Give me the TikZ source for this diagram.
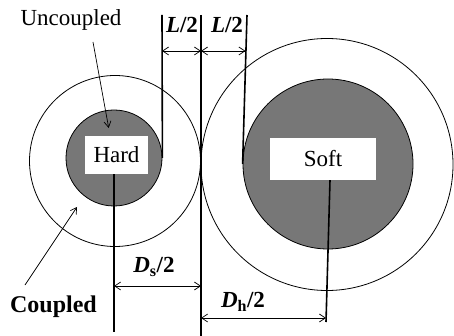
\documentclass[tikz,border=0pt]{standalone}
\usepackage{fontspec}
\setmainfont{Liberation Serif}
\usetikzlibrary{arrows.meta}
\definecolor{coregray}{RGB}{119,119,119}

\begin{document}
\begin{tikzpicture}[x=1pt, y=-1pt,
        ring/.style={draw, circle, line width=0.8pt, inner sep=0pt},
        core/.style={ring, fill=coregray},
        tag/.style={fill=white, inner sep=0pt, font=\fontsize{23}{25}\selectfont},
        lbl/.style={inner sep=0pt, font=\fontsize{23}{25}\selectfont\bfseries},
        guide/.style={line width=1.6pt},
        dim/.style={{Straight Barb[length=6pt,width=8pt]}-{Straight Barb[length=6pt,width=8pt]}, line width=0.7pt},
        pointer/.style={-{Straight Barb[length=6pt,width=7pt]}, line width=0.7pt}]

        \useasboundingbox (0,0) rectangle (454,336);

        % rings and cores
        \node[ring, minimum size=171] (hardring) at (115,161) {};
        \node[core, minimum size=96]  (hardcore) at (114,158) {};
        \node[ring, minimum size=252] (softring) at (327,164.5) {};
        \node[core, minimum size=170] (softcore) at (328,164) {};

        % tops and feet of the guide lines
        \coordinate (lt) at (162,15);
        \coordinate (mt) at (201,15);
        \coordinate (mb) at (201,336);
        \coordinate (rt) at (247,15);
        \coordinate (hb) at (114,332);
        \coordinate (sb) at (326,322);

        \draw[guide]  (lt) -- (hardcore.east);
        \draw[guide]  (mt) -- (mb);
        \draw[guide]  (rt) -- (softcore.west);

        % boxes
        \node[tag, minimum width=63, minimum height=38] (hard) at (116.5,155) {Hard};
        \node[tag, minimum width=106, minimum height=42] (soft) at (323,159) {Soft};

        \draw[guide]  (hardcore.center |- hard.south) -- (hb);
        \draw[guide]  ([xshift=7pt]soft.south) -- (sb);

        % dimensions
        \draw[dim]  ([yshift=-36pt]lt) -- ([yshift=-36pt]mt);
        \draw[dim]  ([yshift=-36pt]mt) -- ([yshift=-36pt,xshift=-1.5pt]rt);
        \draw[dim]  (hb |- 0,286) -- (mt |- 0,286);
        \draw[dim]  (mt |- 0,318) -- (sb |- 0,318);

        \node[lbl] (l1) at (182,25) {\textit{L}/2};
        \node[lbl] (l2) at (227,25) {\textit{L}/2};
        \node[lbl] (ds) at (154,267) {\textit{D}\textsubscript{s}/2};
        \node[lbl] (dh) at (243,302) {\textit{D}\textsubscript{h}/2};

        % ring labels
        \node[inner sep=0pt, font=\fontsize{23}{25}\selectfont] (unc) at (71,20) {Uncoupled};
        \node[lbl, font=\fontsize{24}{26}\selectfont\bfseries] (cpl) at (53.5,307) {Coupled};
        \coordinate (uncfrom) at (93,42);
        \coordinate (uncto) at (108.7,128);
        \coordinate (cplfrom) at (25,285);
        \coordinate (cplto) at (77,207);
        \draw[pointer]  (uncfrom) -- (uncto);
        \draw[pointer]  (cplfrom) -- (cplto);

\end{tikzpicture}
\end{document}
